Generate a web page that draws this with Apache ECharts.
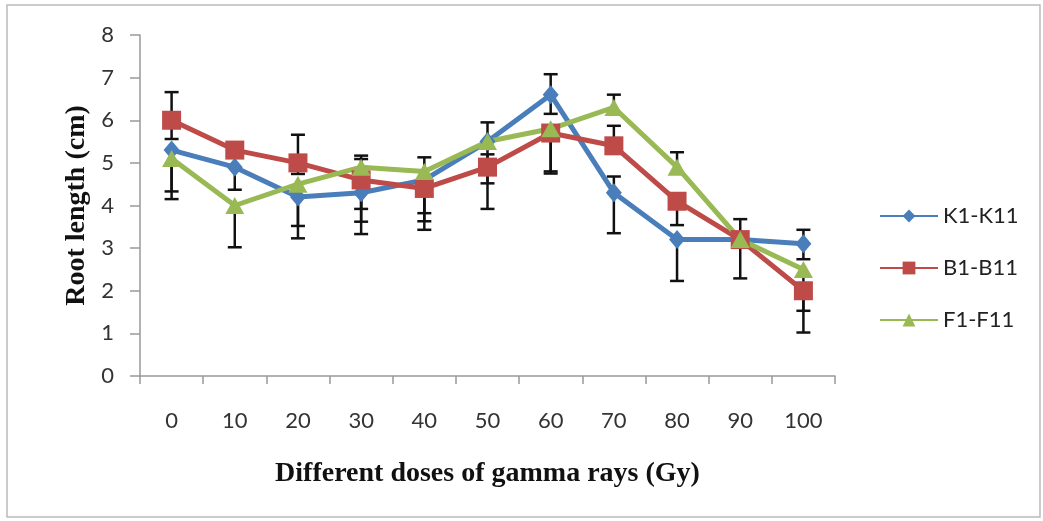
<!DOCTYPE html>
<html>
<head>
<meta charset="utf-8">
<script src="https://cdn.jsdelivr.net/npm/echarts@6/dist/echarts.min.js"></script>
<style>
html,body{margin:0;padding:0;background:#fff;}
#chart{width:1043px;height:521px;}
</style>
</head>
<body>
<div id="chart"></div>
<script>
const categories = ['0','10','20','30','40','50','60','70','80','90','100'];
const yTicks = [0,1,2,3,4,5,6,7,8];
const seriesNames = ['K1-K11','B1-B11','F1-F11'];
const kValues = [5.3, 4.9, 4.2, 4.3, 4.6, 5.5, 6.6, 4.3, 3.2, 3.2, 3.1];
const bValues = [6.0, 5.3, 5.0, 4.6, 4.4, 4.9, 5.7, 5.4, 4.1, 3.2, 2.0];
const fValues = [5.1, 4.0, 4.5, 4.9, 4.8, 5.5, 5.8, 6.3, 4.9, 3.2, 2.5];
// error bar extents above (plus) and below (minus) each point
const kPlus  = [0,    0,    0,    0,    0,    0.45, 0.48, 0.38, 0,    0,    0.33];
const kMinus = [0.97, 0.53, 0.97, 0.97, 0.97, 0,    0.45, 0.95, 0.97, 0.91, 0.36];
const bPlus  = [0.66, 0,    0.66, 0.49, 0,    0.3,  0,    0.47, 0,    0.48, 0];
const bMinus = [0.44, 0,    0.26, 0.98, 0.97, 0.98, 0.95, 0,    0.56, 0,    0.98];
const fPlus  = [0,    0,    0,    0.27, 0.33, 0,    0,    0.3,  0.35, 0,    0];
const fMinus = [0.95, 0.98, 0.98, 0.98, 0.98, 0.98, 1.0,  0,    0,    0,    0.97];

const colors = ['#4a7ebb', '#be4b48', '#98b954'];
const symbols = ['diamond', 'rect', 'triangle'];
const symbolSizes = [[16, 19], 19, [19, 17]];
const valueSets = [kValues, bValues, fValues];
const plusSets = [kPlus, bPlus, fPlus];
const minusSets = [kMinus, bMinus, fMinus];

const chart = echarts.init(document.getElementById('chart'), null, {renderer: 'canvas'});

const series = [];
valueSets.forEach((vals, i) => {
  series.push({
    type: 'custom',
    name: seriesNames[i] + '-err',
    z: 1,
    silent: true,
    data: vals.map((v, j) => [j, v, v - minusSets[i][j], v + plusSets[i][j]]),
    renderItem: function (params, api) {
      const x = api.value(0);
      const mid = api.coord([x, api.value(1)]);
      const lo = api.coord([x, api.value(2)]);
      const hi = api.coord([x, api.value(3)]);
      const hw = 7;
      const style = {stroke: '#111', lineWidth: 2.5};
      const children = [
        {type: 'line', shape: {x1: lo[0], y1: lo[1], x2: hi[0], y2: hi[1]}, style: style}
      ];
      if (Math.abs(lo[1] - mid[1]) > 0.5) {
        children.push({type: 'line', shape: {x1: lo[0] - hw, y1: lo[1], x2: lo[0] + hw, y2: lo[1]}, style: style});
      }
      if (Math.abs(hi[1] - mid[1]) > 0.5) {
        children.push({type: 'line', shape: {x1: hi[0] - hw, y1: hi[1], x2: hi[0] + hw, y2: hi[1]}, style: style});
      }
      return {type: 'group', children: children};
    }
  });
});
valueSets.forEach((vals, i) => {
  series.push({
    type: 'line',
    name: seriesNames[i],
    z: 3,
    data: vals,
    symbol: symbols[i],
    symbolSize: symbolSizes[i],
    showAllSymbol: true,
    lineStyle: {color: colors[i], width: 5},
    itemStyle: {color: colors[i]},
    emphasis: {disabled: true}
  });
});

chart.setOption({
  animation: false,
  backgroundColor: '#fff',
  grid: {left: 140, right: 208, top: 35, bottom: 145, containLabel: false},
  legend: {
    orient: 'vertical',
    left: 874,
    top: 200,
    itemGap: 30,
    itemWidth: 58,
    itemHeight: 16,
    data: seriesNames.map(n => ({name: n})),
    textStyle: {fontFamily: 'Lato', fontSize: 22, color: '#222', padding: [0, 0, 0, 0]}
  },
  xAxis: {
    type: 'category',
    data: categories,
    boundaryGap: true,
    name: 'Different doses of gamma rays (Gy)',
    nameLocation: 'middle',
    nameGap: 84,
    nameTextStyle: {fontFamily: 'Liberation Serif', fontWeight: 'bold', fontSize: 28, color: '#111'},
    axisLine: {lineStyle: {color: '#999', width: 1.5}},
    axisTick: {show: true, alignWithLabel: false, length: 8, lineStyle: {color: '#999', width: 1.5}},
    axisLabel: {fontFamily: 'Lato', fontSize: 22, color: '#333', margin: 34},
    splitLine: {show: false}
  },
  yAxis: {
    type: 'value',
    min: yTicks[0],
    max: yTicks[yTicks.length - 1],
    interval: 1,
    name: 'Root length (cm)',
    nameLocation: 'middle',
    nameGap: 40,
    nameTextStyle: {fontFamily: 'Liberation Serif', fontWeight: 'bold', fontSize: 28, color: '#111'},
    axisLine: {show: true, lineStyle: {color: '#999', width: 1.5}},
    axisTick: {show: true, length: 10, lineStyle: {color: '#999', width: 1.5}},
    axisLabel: {fontFamily: 'Lato', fontSize: 22, color: '#333', margin: 26},
    splitLine: {show: false}
  },
  graphic: [{
    type: 'rect',
    shape: {x: 7, y: 5, width: 1033, height: 512},
    style: {fill: 'none', stroke: '#bbb', lineWidth: 1.5},
    silent: true
  }],
  series: series
});
</script>
</body>
</html>
